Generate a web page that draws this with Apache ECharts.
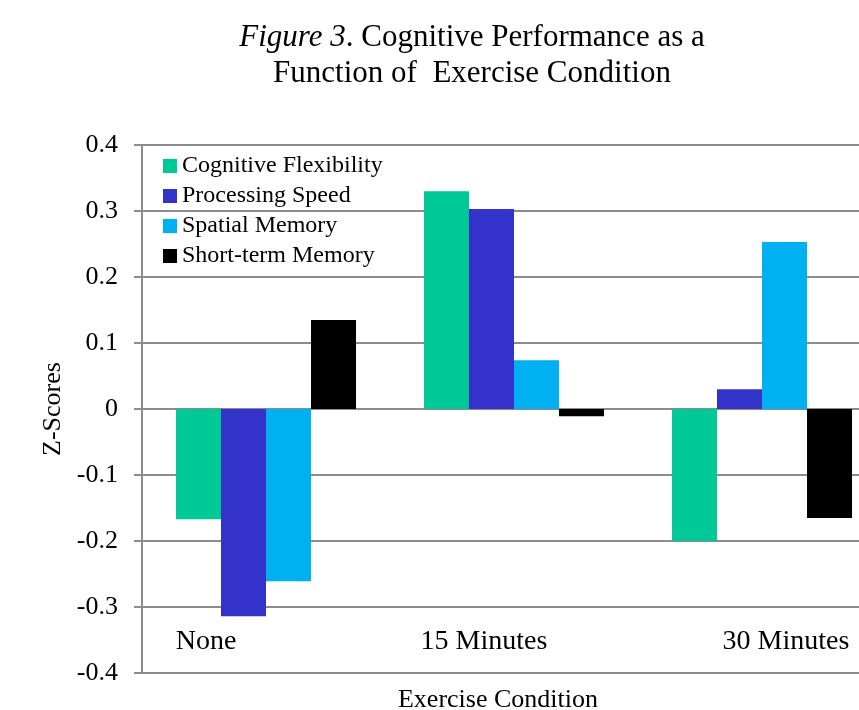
<!DOCTYPE html>
<html>
<head>
<meta charset="utf-8">
<script src="https://cdn.jsdelivr.net/npm/echarts@6/dist/echarts.min.js"></script>
<style>html,body{margin:0;padding:0;background:#fff;}#c{width:859px;height:710px;}</style>
</head>
<body>
<div id="c"></div>
<script>
const categories = ['None', '15 Minutes', '30 Minutes'];
const seriesNames = ['Cognitive Flexibility', 'Processing Speed', 'Spatial Memory', 'Short-term Memory'];
const cognitiveFlexibility = [-0.167, 0.330, -0.200];
const processingSpeed = [-0.314, 0.303, 0.030];
const spatialMemory = [-0.261, 0.074, 0.253];
const shortTermMemory = [0.135, -0.011, -0.165];
const yTicks = { min: -0.4, max: 0.4, interval: 0.1 };

const colors = ['#00C896', '#3333CC', '#00B0F0', '#000000'];
const FONT = '"Times New Roman", "Liberation Serif", serif';
const values = [cognitiveFlexibility, processingSpeed, spatialMemory, shortTermMemory];
const labelPads = [[0, 120, 0, 0], [0, 60, 0, 0], [0, 0, 0, 48]];

const chart = echarts.init(document.getElementById('c'));
chart.setOption({
  animation: false,
  backgroundColor: '#fff',
  title: {
    text: '{i|Figure 3}{n|. Cognitive Performance as a}\n{n|Function of  Exercise Condition}',
    left: 467, top: 15, textAlign: 'center',
    textStyle: {
      fontWeight: 'normal',
      rich: {
        i: { fontFamily: FONT, fontSize: 31, fontStyle: 'italic', fontWeight: 'normal', color: '#000', lineHeight: 36 },
        n: { fontFamily: FONT, fontSize: 31, fontWeight: 'normal', color: '#000', lineHeight: 36 }
      }
    }
  },
  legend: {
    orient: 'vertical', left: 158, top: 149,
    itemWidth: 14, itemHeight: 14, itemGap: 6,
    icon: 'rect',
    textStyle: { fontFamily: FONT, fontSize: 24, color: '#000', lineHeight: 24 },
    data: seriesNames
  },
  grid: { left: 142, top: 145, width: 744, height: 528, outerBoundsMode: 'none', containLabel: false },
  xAxis: {
    type: 'category',
    data: categories.map((c, i) => ({ value: c, textStyle: { padding: labelPads[i] } })),
    name: 'Exercise Condition',
    nameLocation: 'middle', nameGap: 14,
    nameTextStyle: { fontFamily: FONT, fontSize: 26, color: '#000', padding: [0, 32, 0, 0] },
    axisLine: { onZero: false, lineStyle: { color: '#8c8c8c', width: 2 } },
    axisTick: { show: false },
    axisLabel: { inside: true, margin: 17, interval: 0, fontFamily: FONT, fontSize: 28, color: '#000' },
    splitLine: { show: false }
  },
  yAxis: {
    type: 'value',
    min: yTicks.min, max: yTicks.max, interval: yTicks.interval,
    name: 'Z-Scores',
    nameLocation: 'middle', nameGap: 73,
    nameTextStyle: { fontFamily: FONT, fontSize: 26, color: '#000' },
    axisLine: { show: true, lineStyle: { color: '#8c8c8c', width: 2 } },
    axisTick: { show: true, length: 8, lineStyle: { color: '#8c8c8c', width: 2 } },
    axisLabel: { margin: 24, fontFamily: FONT, fontSize: 26, color: '#000',
      formatter: v => String(+v.toFixed(1)) },
    splitLine: { show: true, lineStyle: { color: '#8c8c8c', width: 2 } }
  },
  series: seriesNames.map((n, i) => ({
    name: n, type: 'bar', data: values[i],
    itemStyle: { color: colors[i] },
    barGap: '0%', barCategoryGap: '27.4%'
  }))
});
</script>
</body>
</html>
